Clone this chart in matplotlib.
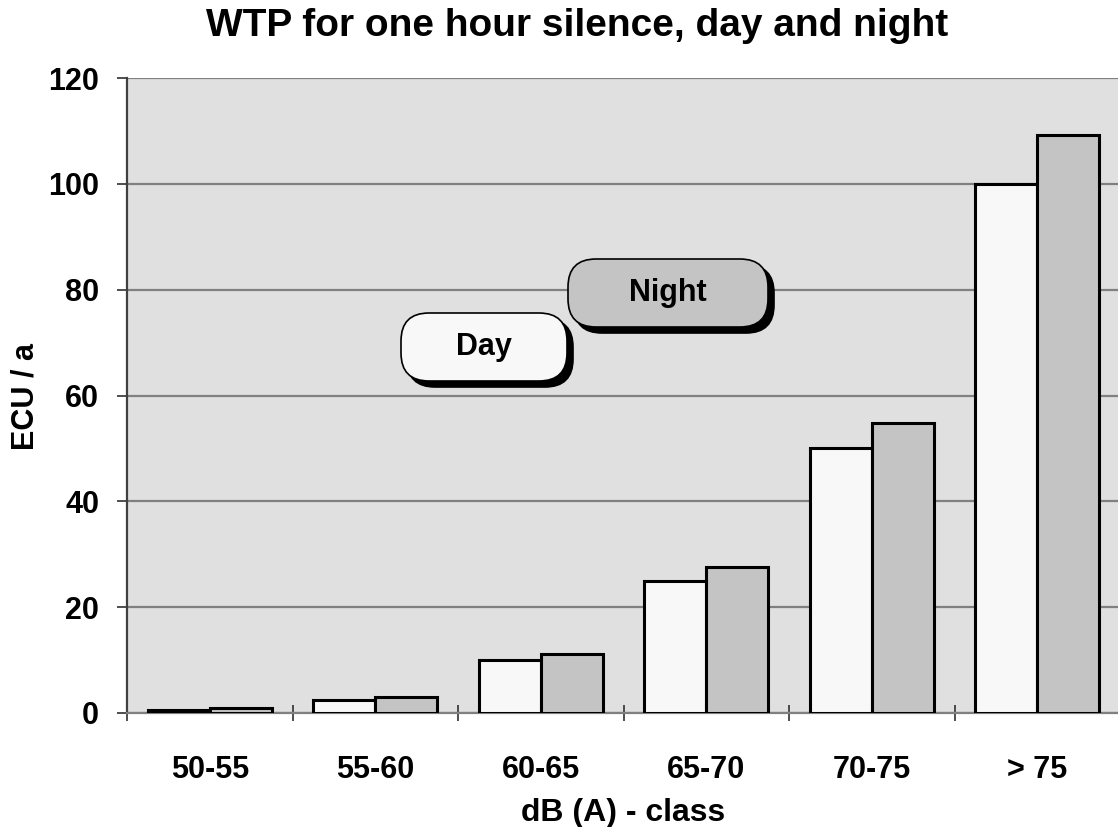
import matplotlib
matplotlib.use('Agg')
import matplotlib.pyplot as plt
from matplotlib.patches import FancyBboxPatch
from matplotlib.transforms import IdentityTransform
import numpy as np

classes = ['50-55', '55-60', '60-65', '65-70', '70-75', '> 75']
day = [0.5, 2.4, 10.0, 25.0, 50.0, 100.0]
night = [1.0, 3.0, 11.2, 27.6, 54.8, 109.3]
yticks = [0, 20, 40, 60, 80, 100, 120]

plt.rcParams['font.family'] = ['Liberation Sans', 'DejaVu Sans']
plt.rcParams['font.weight'] = 'bold'

W, H = 1118, 827
fig = plt.figure(figsize=(W / 100, H / 100), dpi=100)
ax = fig.add_axes([127 / W, 1 - 713 / H, (1120 - 127) / W, (713 - 78) / H])
ax.set_facecolor('#e0e0e0')

x = np.arange(len(classes))
w = 0.375
ax.bar(x - w / 2, day, w, color='#f8f8f8', edgecolor='black', linewidth=2.2, zorder=3)
ax.bar(x + w / 2, night, w, color='#c4c4c4', edgecolor='black', linewidth=2.2, zorder=3)

ax.set_xlim(-0.5, len(classes) - 0.5)
ax.set_ylim(0, 120)
ax.set_yticks(yticks)
ax.set_yticklabels([str(v) for v in yticks], fontsize=22, fontweight='bold')
ax.yaxis.grid(True, color='#808080', linewidth=1.6, zorder=1)
ax.set_axisbelow(True)

ax.set_xticks(np.arange(len(classes) + 1) - 0.5)
ax.set_xticklabels([])
ax.set_xticks(x, minor=True)
ax.set_xticklabels(classes, minor=True, fontsize=22, fontweight='bold')
ax.tick_params(axis='x', which='minor', length=0, pad=30)
ax.tick_params(axis='x', which='major', direction='inout', length=11, width=1.2, color='#303030')
ax.tick_params(axis='y', direction='out', length=7, width=1.2, color='#303030', pad=13)

for s in ['top', 'right']:
    ax.spines[s].set_visible(False)
ax.spines['left'].set_color('#404040')
ax.spines['left'].set_linewidth(1.6)
ax.spines['bottom'].set_color('#808080')
ax.spines['bottom'].set_linewidth(1.6)

fig.text(577 / W, 1 - 36 / H, 'WTP for one hour silence, day and night',
         ha='center', va='baseline', fontsize=28, fontweight='bold')
fig.text(623 / W, 1 - 821 / H, 'dB (A) - class', ha='center', va='baseline',
         fontsize=23, fontweight='bold')
fig.text(26 / W, 1 - 397 / H, 'ECU / a', ha='center', va='center',
         rotation=90, fontsize=22, fontweight='bold')

# legend boxes with shadow, in pixel coordinates
def label_box(x0, y0, x1, y1, fc, text):
    r = 28
    for dx, dy, c in [(6, -6, 'black'), (0, 0, fc)]:
        p = FancyBboxPatch((x0 + dx + r, H - y1 + dy + r), (x1 - x0) - 2 * r, (y1 - y0) - 2 * r,
                           boxstyle='round,pad=%d' % r, transform=IdentityTransform(),
                           facecolor=c, edgecolor='black', linewidth=1.2, zorder=5)
        fig.patches.append(p)
    fig.text(((x0 + x1) / 2) / W, 1 - ((y0 + y1) / 2) / H, text,
             ha='center', va='center', fontsize=22, fontweight='bold', zorder=6)

label_box(401, 313, 567, 381, '#f8f8f8', 'Day')
label_box(568, 259, 768, 327, '#c4c4c4', 'Night')

fig.savefig('out.png', dpi=100)
